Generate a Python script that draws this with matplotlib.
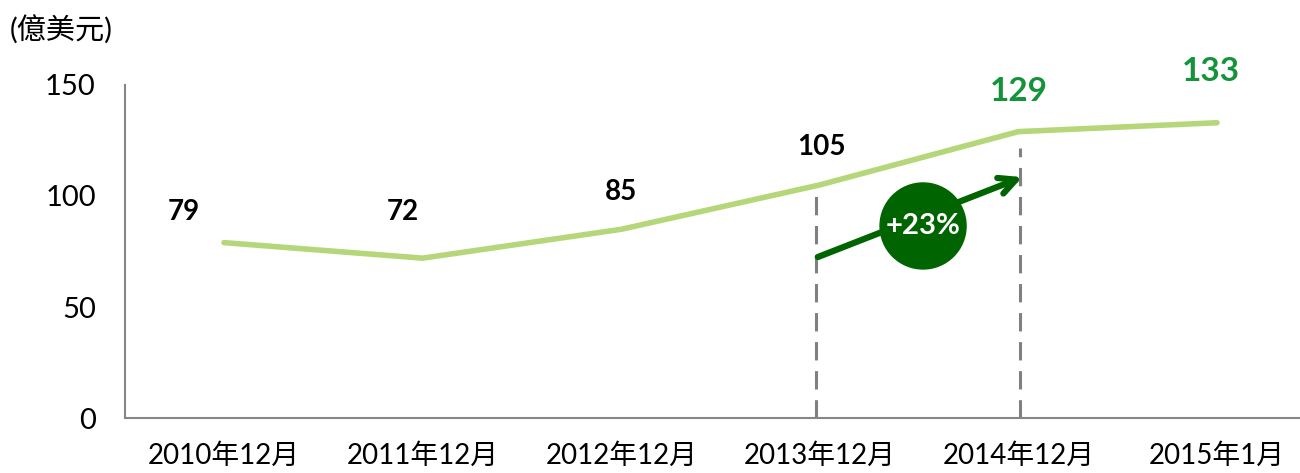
import numpy as np
import matplotlib.pyplot as plt
from matplotlib.patches import Ellipse

plt.rcParams['font.family'] = ['Lato', 'Noto Sans CJK TC', 'DejaVu Sans']

# 數據
months = ['2010年12月', '2011年12月', '2012年12月', '2013年12月', '2014年12月', '2015年1月']
values = [79, 72, 85, 105, 129, 133]
label_colors = ['black', 'black', 'black', 'black', '#14933a', '#14933a']
label_sizes = [20, 20, 20, 20, 24, 24]
label_dx = [-0.2, -0.1, 0.0, 0.01, 0.0, -0.03]
label_dy = [14, 21, 17, 17, 18, 23]
growth = '+23%'

x = np.arange(len(months))

fig = plt.figure(figsize=(13, 4.73), dpi=100)
ax = fig.add_axes([125 / 1300, 55 / 473, 1175 / 1300, 333 / 473])

ax.plot(x, values, color='#b5d77a', lw=4, solid_capstyle='round', zorder=3)

for i, v in enumerate(values):
    ax.text(x[i] + label_dx[i], v + label_dy[i], str(v), ha='center', va='center',
            fontsize=label_sizes[i], fontweight='bold', color=label_colors[i])

# 虛線
ax.plot([2.98, 2.98], [0, 100.5], ls=(0, (6, 3.5)), color='#808080', lw=2.2, zorder=2)
ax.plot([4.01, 4.01], [0, 121.5], ls=(0, (6, 3.5)), color='#808080', lw=2.2, zorder=2)

# 箭頭
ax.annotate('', xy=(4.02, 108.5), xytext=(2.99, 72.5),
            arrowprops=dict(arrowstyle='->', color='#006400', lw=4.5,
                            mutation_scale=30, shrinkA=0, shrinkB=0), zorder=4)
ax.add_patch(Ellipse((3.52, 86.5), 2 * 43 / 198.6, 2 * 43 / 2.22, color='#006400', zorder=5))
ax.text(3.52, 86.5, growth, ha='center', va='center', fontsize=21, fontweight='bold',
        color='white', zorder=6)

ax.set_xlim(-0.4985, 5.418)
ax.set_ylim(0, 150)
ax.set_yticks([0, 50, 100, 150])
ax.set_xticks(x)
ax.set_xticklabels(months)
ax.tick_params(length=0)
ax.tick_params(axis='x', labelsize=20, pad=18)
ax.tick_params(axis='y', labelsize=21, pad=21)
for s in ['top', 'right']:
    ax.spines[s].set_visible(False)
for s in ['left', 'bottom']:
    ax.spines[s].set_color('#868686')
    ax.spines[s].set_linewidth(1.5)

fig.text(10 / 1300, 1 - 30 / 473, '(億美元)', fontsize=21, va='center', ha='left')

fig.savefig('out.png', dpi=100)
